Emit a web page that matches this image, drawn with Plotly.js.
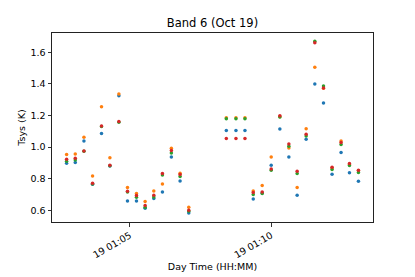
<!DOCTYPE html>
<html>
<head>
<meta charset="utf-8">
<script src="https://cdn.plot.ly/plotly-3.0.1.min.js"></script>
<style>html,body{margin:0;padding:0;background:#fff;}#chart{width:415px;height:277px;}</style>
</head>
<body>
<div id="chart"></div>
<script>
var times = [
  "2019-10-19 01:02:45.7","2019-10-19 01:03:04.1","2019-10-19 01:03:22.5","2019-10-19 01:03:40.8",
  "2019-10-19 01:03:59.8","2019-10-19 01:04:17.6","2019-10-19 01:04:36.7","2019-10-19 01:04:54.9",
  "2019-10-19 01:05:14.0","2019-10-19 01:05:32.4","2019-10-19 01:05:50.8","2019-10-19 01:06:09.1",
  "2019-10-19 01:06:28.1","2019-10-19 01:06:46.6","2019-10-19 01:07:05.0",
  "2019-10-19 01:08:24.7","2019-10-19 01:08:45.2","2019-10-19 01:09:04.3","2019-10-19 01:09:21.9",
  "2019-10-19 01:09:40.9","2019-10-19 01:10:00.0","2019-10-19 01:10:18.4","2019-10-19 01:10:37.5",
  "2019-10-19 01:10:55.1","2019-10-19 01:11:14.2","2019-10-19 01:11:32.6","2019-10-19 01:11:51.0",
  "2019-10-19 01:12:09.2","2019-10-19 01:12:28.3","2019-10-19 01:12:46.1","2019-10-19 01:13:05.2"
];
var tsysBlue   = [0.898,0.902,1.039,0.765,1.086,0.880,1.325,0.659,0.659,0.613,0.674,0.716,0.938,0.786,0.583,
                  1.105,1.105,1.105,0.672,0.710,0.885,1.114,0.938,0.695,1.050,1.399,1.279,0.828,0.966,0.837,0.784];
var tsysOrange = [0.953,0.957,1.063,0.817,1.255,0.932,1.336,0.744,0.706,0.655,0.722,0.767,0.993,0.834,0.619,
                  1.185,1.185,1.185,0.722,0.757,0.938,1.192,0.995,0.744,1.116,1.505,1.372,0.868,1.038,0.890,0.850];
var tsysGreen  = [0.910,0.918,0.973,0.766,1.130,0.882,1.158,0.716,0.683,0.619,0.684,0.823,0.963,0.814,0.594,
                  1.180,1.180,1.180,0.700,0.706,0.854,1.190,1.006,0.833,1.071,1.670,1.386,0.858,1.017,0.883,0.839];
var tsysRed    = [0.923,0.930,0.976,0.771,1.133,0.885,1.162,0.720,0.693,0.630,0.695,0.833,0.978,0.826,0.600,
                  1.055,1.055,1.055,0.712,0.716,0.862,1.198,1.019,0.847,1.082,1.660,1.374,0.873,1.029,0.896,0.854];

var series = [
  {y: tsysBlue, color: "#1f77b4"},
  {y: tsysOrange, color: "#ff7f0e"},
  {y: tsysGreen, color: "#2ca02c"},
  {y: tsysRed, color: "#d62728"}
];
var data = series.map(function(s){
  return {x: times, y: s.y, type: "scatter", mode: "markers",
          marker: {color: s.color, size: 3.5, symbol: "circle", line: {width: 0}},
          showlegend: false, hoverinfo: "none"};
});

var font = {family: "DejaVu Sans", size: 9.5, color: "#000"};
var layout = {
  width: 415, height: 277,
  margin: {l: 52, r: 42, t: 33, b: 55, pad: 0},
  paper_bgcolor: "#fff", plot_bgcolor: "#fff",
  font: font,
  title: {text: "Band 6 (Oct 19)", font: {family: "DejaVu Sans", size: 11.5, color: "#000"},
          x: 0.5, xref: "paper", y: 1 - 23/277, yref: "container", yanchor: "middle"},
  xaxis: {
    type: "date",
    range: ["2019-10-19 01:02:14.7", "2019-10-19 01:13:36.1"],
    tick0: "2019-10-19 01:05:00", dtick: 300000,
    tickformat: "%d %H:%M", tickangle: -30,
    ticks: "outside", ticklen: 3.5, tickwidth: 0.8, tickcolor: "#000",
    showgrid: false, zeroline: false,
    showline: true, linecolor: "#222", linewidth: 1, mirror: true,
    tickfont: font,
    title: {text: "Day Time (HH:MM)", font: font, standoff: 4}
  },
  yaxis: {
    range: [0.526, 1.722],
    tick0: 0.6, dtick: 0.2, tickformat: ".1f",
    ticks: "outside", ticklen: 3.5, tickwidth: 0.8, tickcolor: "#000",
    showgrid: false, zeroline: false,
    showline: true, linecolor: "#222", linewidth: 1, mirror: true,
    tickfont: font,
    title: {text: "Tsys (K)", font: font, standoff: 3}
  }
};
Plotly.newPlot("chart", data, layout, {displayModeBar: false, staticPlot: true});
</script>
</body>
</html>
